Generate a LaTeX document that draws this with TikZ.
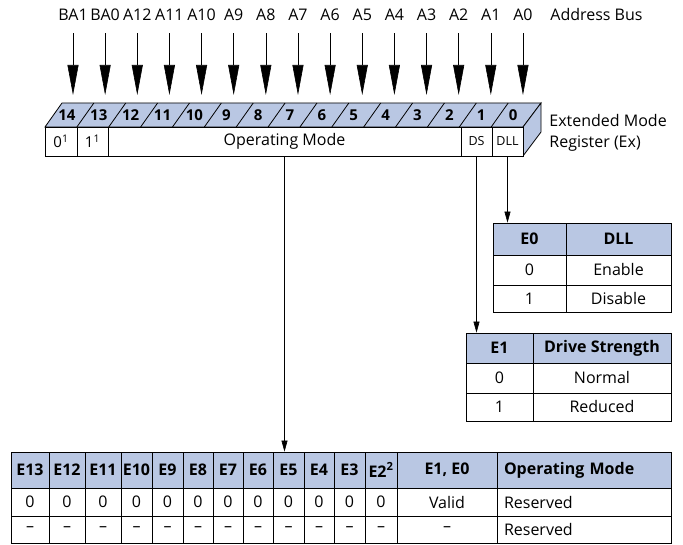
\documentclass[tikz,border=0pt]{standalone}
\usepackage{fontspec}
\setmainfont{Open Sans}
\usetikzlibrary{arrows.meta}
\definecolor{regblue}{RGB}{185,199,227}

\begin{document}
\begin{tikzpicture}[x=1pt, y=-1pt, line width=0.8pt,
    txt/.style={inner sep=0pt, font=\fontsize{16}{19}\selectfont},
    busarrow/.style={-{Triangle[length=30pt,width=11pt]}, line width=0.6pt},
    tiparrow/.style={-{Triangle[length=11pt,width=6pt]}, line width=0.6pt},
    regcell/.style={draw, fill=white, minimum height=29pt, inner sep=0pt},
    cell/.style={draw, fill=white, inner sep=0pt, font=\fontsize{16}{19}\selectfont},
    hdr/.style={cell, fill=regblue, font=\fontsize{16}{19}\selectfont\bfseries}]
    \useasboundingbox (0,0) rectangle (683,545);

    % address bus
    \foreach \lbl [count=\i from 0] in {BA1,BA0,A12,A11,A10,A9,A8,A7,A6,A5,A4,A3,A2,A1,A0} {
        \node[txt] (a\i) at ({73+32.14*\i},15) {\lbl};
        \coordinate (t\i) at ({73+32.14*\i},95);
        \draw[busarrow] ([yshift=-12pt]a\i.south) -- (t\i);
    }
    \node[txt, anchor=west] (bus) at (550,15) {Address Bus};

    % register: top and side faces
    \fill[regblue, draw=black] (45,127) -- (62,103) -- (541,103) -- (523,127) -- cycle;
    \fill[regblue, draw=black] (523,127) -- (541,103) -- (541,132) -- (523,156) -- cycle;
    \foreach \i in {1,...,14}
        \draw ({45+31.87*\i},127) -- ({62+31.87*\i},103);
    \foreach \b [count=\i from 0] in {14,13,...,0}
        \node[txt, font=\fontsize{15}{18}\selectfont\bfseries] (b\b) at ({51+31.87*(\i+0.5)},115.5) {\b};

    % register: front cells
    \node[regcell, minimum width=32pt, font=\fontsize{15}{18}\selectfont] (reg14) at (61,141.5) {0\textsuperscript{1}};
    \node[regcell, minimum width=31pt, font=\fontsize{15}{18}\selectfont] (reg13) at (92.5,141.5) {1\textsuperscript{1}};
    \node[regcell, minimum width=353pt, font=\fontsize{16}{19}\selectfont] (regop) at (284.5,141.5) {Operating Mode};
    \node[regcell, minimum width=31pt, font=\fontsize{12.5}{14}\selectfont] (regds) at (476.5,141.5) {DS};
    \node[regcell, minimum width=31pt, font=\fontsize{12.5}{14}\selectfont] (regdll) at (507.5,141.5) {DLL};
    \node[txt, anchor=west, align=left] (regname) at (549,132.5) {Extended Mode\\[2pt]Register (Ex)};

    % DLL table
    \node[hdr, minimum width=73pt, minimum height=32pt] (dllh1) at (529.5,239) {E0};
    \node[hdr, minimum width=105pt, minimum height=32pt] (dllh2) at (618.5,239) {DLL};
    \node[cell, minimum width=73pt, minimum height=30pt] (dll11) at (529.5,270) {0};
    \node[cell, minimum width=105pt, minimum height=30pt] (dll12) at (618.5,270) {Enable};
    \node[cell, minimum width=73pt, minimum height=27pt] (dll21) at (529.5,298.5) {1};
    \node[cell, minimum width=105pt, minimum height=27pt] (dll22) at (618.5,298.5) {Disable};

    % drive strength table
    \node[hdr, minimum width=67pt, minimum height=30pt] (dsh1) at (499.5,348) {E1};
    \node[hdr, minimum width=138pt, minimum height=30pt] (dsh2) at (602,348) {Drive Strength};
    \node[cell, minimum width=67pt, minimum height=30pt] (ds11) at (499.5,378) {0};
    \node[cell, minimum width=138pt, minimum height=30pt] (ds12) at (602,378) {Normal};
    \node[cell, minimum width=67pt, minimum height=28pt] (ds21) at (499.5,407) {1};
    \node[cell, minimum width=138pt, minimum height=28pt] (ds22) at (602,407) {Reduced};

    % operating mode table
    \foreach \xl/\xr/\h [count=\i] in {11/49/E13, 49/85/E12, 85/121/E11, 121/152/E10,
        152/183/E9, 183/213/E8, 213/243/E7, 243/273/E6, 273/304/E5, 304/334/E4,
        334/365/E3, 365/397/E2\textsuperscript{2}} {
        \node[hdr, minimum width={(\xr-\xl)*1pt}, minimum height=36pt] (oph\i) at ({(\xl+\xr)/2},470) {\h};
        \node[cell, minimum width={(\xr-\xl)*1pt}, minimum height=28pt] (opa\i) at ({(\xl+\xr)/2},502) {0};
        \node[cell, minimum width={(\xr-\xl)*1pt}, minimum height=27pt] (opb\i) at ({(\xl+\xr)/2},529.5) {--};
    }
    \node[hdr, minimum width=100pt, minimum height=36pt] (oph13) at (447,470) {E1, E0};
    \node[cell, minimum width=100pt, minimum height=28pt] (opa13) at (447,502) {Valid};
    \node[cell, minimum width=100pt, minimum height=27pt] (opb13) at (447,529.5) {--};
    \node[hdr, minimum width=174pt, text width=160pt, align=left, minimum height=36pt] (oph14) at (584,470) {Operating Mode};
    \node[cell, minimum width=174pt, text width=160pt, align=left, minimum height=28pt] (opa14) at (584,502) {Reserved};
    \node[cell, minimum width=174pt, text width=160pt, align=left, minimum height=27pt] (opb14) at (584,529.5) {Reserved};

    % register fields to tables
    \draw[tiparrow] (regdll.south) -- (regdll.south |- dllh1.north);
    \draw[tiparrow] (regds.south) -- (regds.south |- dsh1.north);
    \draw[tiparrow] (regop.south) -- (regop.south |- oph9.north);
\end{tikzpicture}
\end{document}
